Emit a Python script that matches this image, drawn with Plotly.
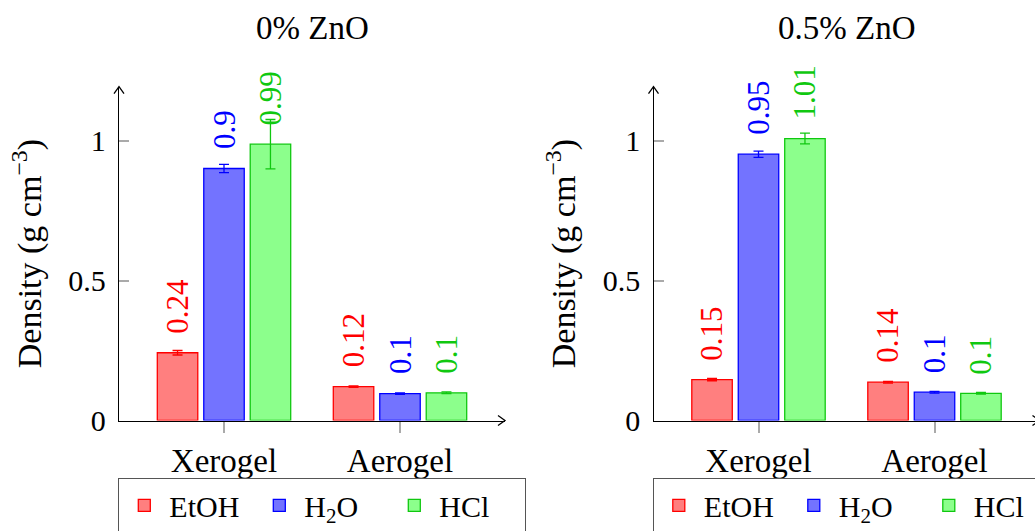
import plotly.graph_objects as go

# ---- data ----
categories = ["Xerogel", "Aerogel"]
series_names = ["EtOH", "H<sub>2</sub>O", "HCl"]
panel_titles = ["0% ZnO", "0.5% ZnO"]

# 0% ZnO
zno0_etoh = [0.242, 0.121]
zno0_h2o = [0.9, 0.096]
zno0_hcl = [0.987, 0.099]
zno0_etoh_err = [0.008, 0.003]
zno0_h2o_err = [0.015, 0.003]
zno0_hcl_err = [0.088, 0.003]

# 0.5% ZnO
zno5_etoh = [0.146, 0.137]
zno5_h2o = [0.951, 0.101]
zno5_hcl = [1.007, 0.097]
zno5_etoh_err = [0.004, 0.003]
zno5_h2o_err = [0.011, 0.003]
zno5_hcl_err = [0.019, 0.003]

yticks = [0, 0.5, 1]
ytick_text = ["0", "0.5", "1"]

# ---- style ----
FONT = "Liberation Serif"
FS = 30      # numbers
FS_T = 33    # words
line_colors = ["#ff0000", "#0000ff", "#10c810"]
fill_colors = ["rgba(255,0,0,0.5)", "rgba(0,0,255,0.55)", "rgba(0,255,0,0.45)"]
text_colors = ["#ff0000", "#0000ff", "#10c810"]

W, H = 1035, 531
PX_PER_UNIT_X = 176.0
y0_px, ytop_px = 420.5, 86.7
ymax = (y0_px - ytop_px) / 280.0
ydom = [1 - y0_px / H, 1 - ytop_px / H]

panels = [
    dict(x0=119.0, x1=505.0, vals=[zno0_etoh, zno0_h2o, zno0_hcl],
         errs=[zno0_etoh_err, zno0_h2o_err, zno0_hcl_err]),
    dict(x0=653.5, x1=1039.5, vals=[zno5_etoh, zno5_h2o, zno5_hcl],
         errs=[zno5_etoh_err, zno5_h2o_err, zno5_hcl_err]),
]

bar_w = 0.23
slot = 0.264
offsets = [-slot, 0.0, slot]

fig = go.Figure()
annotations = []
shapes = []
xpos = list(range(len(categories)))

for p_i, p in enumerate(panels):
    sfx = "" if p_i == 0 else str(p_i + 1)
    xref = "x" + sfx
    yref = "y" + sfx
    legend_name = "legend" + sfx
    for s_i, name in enumerate(series_names):
        fig.add_trace(go.Bar(
            x=xpos, y=p["vals"][s_i], width=bar_w,
            offset=offsets[s_i] - bar_w / 2,
            name=name,
            marker=dict(color=fill_colors[s_i],
                        line=dict(color=line_colors[s_i], width=1.3)),
            error_y=dict(type="data", array=p["errs"][s_i], visible=True,
                         color=line_colors[s_i], thickness=1.3, width=5),
            xaxis=xref, yaxis=yref, legend=legend_name,
            showlegend=True,
        ))
        for c_i, v in enumerate(p["vals"][s_i]):
            label = f"{v:.2f}".rstrip("0").rstrip(".")
            annotations.append(dict(
                x=c_i + offsets[s_i], y=v, xref=xref, yref=yref,
                text=label, showarrow=False, textangle=-90,
                xanchor="center", yanchor="bottom", yshift=17,
                font=dict(family=FONT, size=31, color=text_colors[s_i]),
            ))
    # axis layout
    xlo = -(105.0 / PX_PER_UNIT_X)
    x1_vis = min(p["x1"], W)
    xhi = xlo + (x1_vis - p["x0"]) / PX_PER_UNIT_X
    xdom = [p["x0"] / W, x1_vis / W]
    fig.update_layout(**{
        "xaxis" + sfx: dict(
            domain=xdom, range=[xlo, xhi], anchor=yref,
            tickvals=xpos, ticktext=categories,
            ticks="outside", ticklen=11, tickcolor="#aaaaaa", tickwidth=1.5,
            showline=True, linecolor="black", linewidth=1.3,
            showgrid=False, zeroline=False, fixedrange=True,
            tickfont=dict(family=FONT, size=FS_T, color="black"),
        ),
        "yaxis" + sfx: dict(
            domain=ydom, range=[0, ymax], anchor=xref,
            tickvals=yticks, ticktext=ytick_text,
            ticks="inside", ticklen=10, tickcolor="#aaaaaa", tickwidth=1.5,
            showline=True, linecolor="black", linewidth=1.3,
            showgrid=False, zeroline=False, fixedrange=True,
            tickfont=dict(family=FONT, size=FS, color="black"),
            ticklabelstandoff=6,
            title=dict(text="Density (g cm<sup>−3</sup>)", standoff=16,
                       font=dict(family=FONT, size=FS_T + 1, color="black")),
        ),
        legend_name: dict(
            orientation="h", x=(p["x0"] - 1) / W, y=1 - 478.0 / H,
            xanchor="left", yanchor="top",
            bordercolor="#555555", borderwidth=1.3, bgcolor="white",
            font=dict(family=FONT, size=30, color="black"),
            itemwidth=40, entrywidth=80, tracegroupgap=0,
        ),
    })
    # title
    annotations.append(dict(
        x=(p["x0"] + p["x1"]) / 2 / W, y=1 - 28.0 / H, xref="paper", yref="paper",
        text=panel_titles[p_i], showarrow=False, xanchor="center", yanchor="middle",
        font=dict(family=FONT, size=FS_T, color="black"),
    ))
    # axis arrow heads (open chevrons)
    shapes.append(dict(
        type="path", xref="paper", yref="paper",
        xsizemode="pixel", ysizemode="pixel",
        xanchor=p["x0"] / W, yanchor=ydom[1],
        path="M -5 -7 L 0 0 L 5 -7",
        line=dict(color="black", width=1.3),
    ))
    shapes.append(dict(
        type="path", xref="paper", yref="paper",
        xsizemode="pixel", ysizemode="pixel",
        xanchor=p["x1"] / W, yanchor=ydom[0],
        path="M -7 5 L 0 0 L -7 -5",
        line=dict(color="black", width=1.3),
    ))

fig.update_layout(
    width=W, height=H,
    margin=dict(l=0, r=0, t=0, b=0, autoexpand=False),
    paper_bgcolor="white", plot_bgcolor="white",
    barmode="overlay",
    annotations=annotations, shapes=shapes,
    font=dict(family=FONT, size=FS, color="black"),
)

fig.write_html("out.html", config={"displayModeBar": False},
               post_script="document.body.style.margin='0';")
